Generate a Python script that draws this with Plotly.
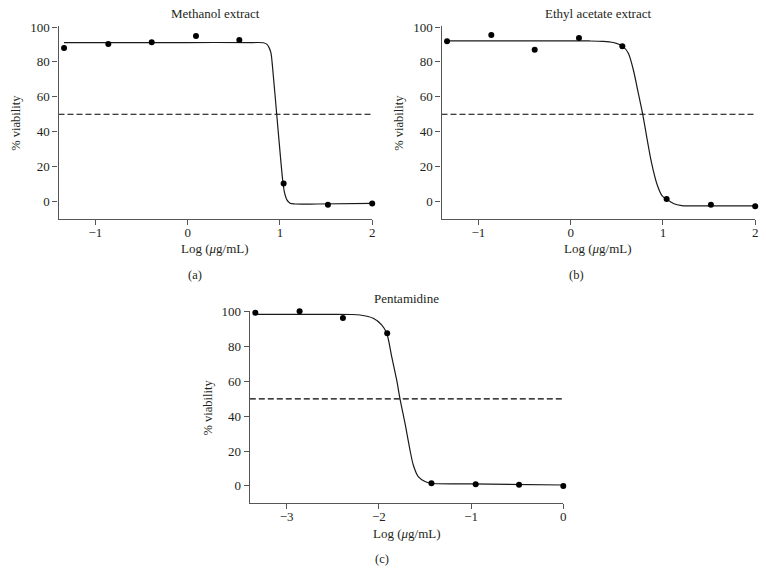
import plotly.graph_objects as go

# ---------------- data ----------------
log_conc_extracts = [-1.34, -0.86, -0.39, 0.09, 0.56, 1.04, 1.52, 2.00]
methanol_viability = [87.9, 90.2, 91.2, 94.8, 92.5, 10.3, -1.9, -1.1]
ethyl_viability = [91.8, 95.4, 87.0, 93.7, 88.9, 1.5, -1.9, -2.7]

log_conc_pentamidine = [-3.34, -2.86, -2.39, -1.91, -1.43, -0.95, -0.48, 0.00]
pentamidine_viability = [99.4, 100.2, 96.4, 87.6, 1.5, 1.0, 0.6, 0.0]

# fitted dose-response curves
methanol_curve_x = [-1.34, 0.00, 0.70, 0.82, 0.857, 0.885, 0.903, 0.92, 0.965, 1.01, 1.030, 1.048, 1.074, 1.110, 1.165, 1.40, 2.00]
methanol_curve_y = [91.1, 91.1, 91.1, 91.0, 90.2, 87.9, 85.0, 77.0, 50.0, 23.0, 12.2, 5.5, 1.1, -1.0, -1.4, -1.4, -1.1]

ethyl_curve_x = [-1.34, 0.00, 0.20, 0.35, 0.462, 0.564, 0.625, 0.679, 0.733, 0.781, 0.824, 0.878, 0.933, 0.987, 1.041, 1.113, 1.204, 1.40, 2.00]
ethyl_curve_y = [92.0, 92.0, 92.0, 91.8, 91.1, 88.9, 85.0, 75.5, 62.1, 50.0, 37.1, 21.8, 10.3, 3.6, 1.3, -1.1, -2.3, -2.5, -2.5]

pent_curve_x = [-3.34, -2.50, -2.30, -2.205, -2.061, -1.970, -1.915, -1.861, -1.807, -1.771, -1.717, -1.663, -1.627, -1.573, -1.500, -1.438, -1.012, 0.00]
pent_curve_y = [98.5, 98.5, 98.4, 98.1, 96.2, 92.4, 87.6, 74.2, 60.8, 50.0, 36.0, 20.7, 12.0, 5.3, 2.5, 1.5, 1.1, 0.5]

threshold = 50
extract_x_range = [-1.4, 2]
pent_x_range = [-3.4, 0]
y_range = [-10, 100.6]
extract_x_ticks = [-1, 0, 1, 2]
pent_x_ticks = [-3, -2, -1, 0]
y_ticks = [0, 20, 40, 60, 80, 100]

titles = ["Methanol extract", "Ethyl acetate extract", "Pentamidine"]
panel_labels = ["(a)", "(b)", "(c)"]
x_title = "Log (<i>μ</i>g/mL)"
y_title = "% viability"

# ---------------- figure ----------------
W, H = 766, 585
FONT = "Liberation Serif"
INK = "#231f20"
AXIS = "#555555"
PX_PER_UNIT = 1.743  # vertical pixels per % viability

fig = go.Figure()

panels = [
    ("x", "y", log_conc_extracts, methanol_viability, methanol_curve_x, methanol_curve_y, extract_x_range),
    ("x2", "y2", log_conc_extracts, ethyl_viability, ethyl_curve_x, ethyl_curve_y, extract_x_range),
    ("x3", "y3", log_conc_pentamidine, pentamidine_viability, pent_curve_x, pent_curve_y, pent_x_range),
]

for xa, ya, px, py, cx, cy, xr in panels:
    fig.add_trace(go.Scatter(x=[xr[0], xr[1]], y=[threshold, threshold], mode="lines",
                             line=dict(color="#000000", width=1.2, dash="6px,3px"),
                             xaxis=xa, yaxis=ya, showlegend=False, hoverinfo="skip"))
    fig.add_trace(go.Scatter(x=cx, y=cy, mode="lines", cliponaxis=False,
                             line=dict(color="#1a1a1a", width=1.2, shape="spline", smoothing=0.8),
                             xaxis=xa, yaxis=ya, showlegend=False))
    fig.add_trace(go.Scatter(x=px, y=py, mode="markers", cliponaxis=False,
                             marker=dict(color="black", size=6),
                             xaxis=xa, yaxis=ya, showlegend=False))


def px2x(p):
    return p / W


def px2y(p):
    return 1 - p / H


common_axis = dict(showline=True, linecolor=AXIS, linewidth=1.2, ticks="outside",
                   ticklen=5, tickwidth=1.1, tickcolor=AXIS, showgrid=False, zeroline=False,
                   automargin=False,
                   tickfont=dict(family=FONT, size=13, color=INK), fixedrange=True)

# pixel boxes of the plot areas: (left, right, pixel row of value 0, bottom)
boxes = [(58.5, 372.2, 201.3, 219.0), (441.5, 755.2, 201.3, 219.0), (249.8, 563.3, 486.0, 503.3)]
xranges = [extract_x_range, extract_x_range, pent_x_range]
xticks = [extract_x_ticks, extract_x_ticks, pent_x_ticks]

layout = dict(width=W, height=H, margin=dict(l=0, r=0, t=0, b=0, autoexpand=False),
              paper_bgcolor="white", plot_bgcolor="white", showlegend=False)

for i, (l, r, zero_px, b) in enumerate(boxes):
    sfx = "" if i == 0 else str(i + 1)
    top = zero_px - y_range[1] * PX_PER_UNIT
    layout["xaxis" + sfx] = dict(common_axis, domain=[px2x(l), px2x(r)], range=xranges[i],
                                 tickvals=xticks[i], ticklabelstandoff=-4,
                                 ticktext=[("−" + str(abs(v))) if v < 0 else str(v) for v in xticks[i]],
                                 anchor="y" + sfx)
    layout["yaxis" + sfx] = dict(common_axis, domain=[px2y(b), px2y(top)], range=y_range,
                                 tickvals=y_ticks, anchor="x" + sfx)

fig.update_layout(**layout)

# text positions (pixel centres)
title_pos = [(215, 13), (598, 13), (406.7, 298.3)]
xtitle_pos = [(215, 248), (598, 248), (406.7, 533.3)]
ytitle_pos = [(15.7, 123), (398.7, 123), (207, 407.5)]
label_pos = [(195, 275), (576, 275), (381.7, 559.3)]

ann = []
for i in range(3):
    ann.append(dict(text=titles[i], x=px2x(title_pos[i][0]), y=px2y(title_pos[i][1]),
                    xref="paper", yref="paper", showarrow=False, xanchor="center", yanchor="middle",
                    font=dict(family=FONT, size=13, color=INK)))
    ann.append(dict(text=x_title, x=px2x(xtitle_pos[i][0]), y=px2y(xtitle_pos[i][1]),
                    xref="paper", yref="paper", showarrow=False, xanchor="center", yanchor="middle",
                    font=dict(family=FONT, size=13, color=INK)))
    ann.append(dict(text=y_title, x=px2x(ytitle_pos[i][0]), y=px2y(ytitle_pos[i][1]),
                    xref="paper", yref="paper", showarrow=False, xanchor="center", yanchor="middle",
                    textangle=-90, font=dict(family=FONT, size=12.5, color=INK)))
    ann.append(dict(text=panel_labels[i], x=px2x(label_pos[i][0]), y=px2y(label_pos[i][1]),
                    xref="paper", yref="paper", showarrow=False, xanchor="center", yanchor="middle",
                    font=dict(family=FONT, size=12.5, color=INK)))

fig.update_layout(annotations=ann)

fig.write_html("out.html", config={"displayModeBar": False},
               post_script="document.body.style.margin='0px';document.body.style.overflow='hidden';")
